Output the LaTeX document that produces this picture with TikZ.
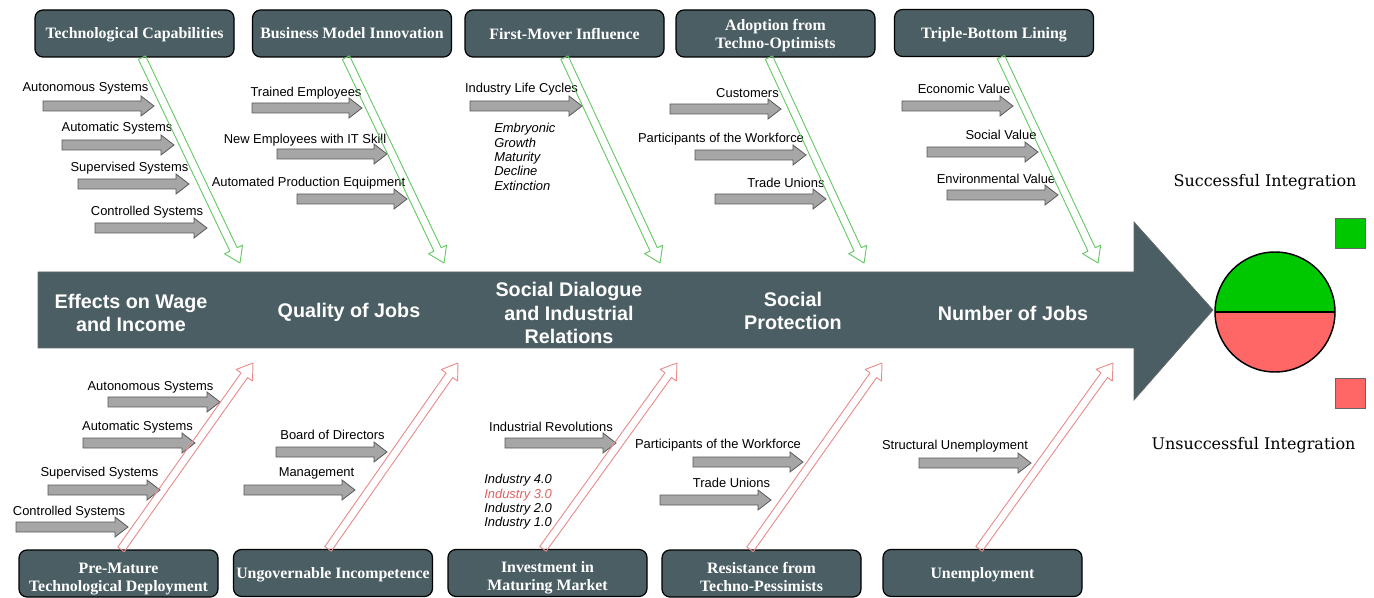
\documentclass[tikz,border=0pt]{standalone}
\usepackage{fontspec}
\setmainfont{Liberation Serif}
\setsansfont{Liberation Sans}
\newfontfamily\legendfont{DejaVu Serif}
\usepackage{tikz}
\usetikzlibrary{calc}
\definecolor{slate}{RGB}{74,94,99}
\definecolor{goodgreen}{RGB}{0,200,0}
\definecolor{badred}{RGB}{255,102,102}
\definecolor{pushgreen}{RGB}{104,200,104}
\definecolor{pullred}{RGB}{232,140,140}
\definecolor{subgray}{RGB}{166,166,166}
\definecolor{hlred}{RGB}{224,96,96}

\begin{document}
\begin{tikzpicture}[
  x=0.75pt, y=-0.75pt,
  % block arrow from start to target: half shaft, half head, head length
  fat arrow/.style n args={3}{to path={
      ($(\tikztostart)!#1!90:(\tikztotarget)$)
      -- ($(\tikztotarget)!#3!(\tikztostart)!#1!-90:(\tikztostart)$)
      -- ($(\tikztotarget)!#3!(\tikztostart)!#2!-90:(\tikztostart)$)
      -- (\tikztotarget)
      -- ($(\tikztotarget)!#3!(\tikztostart)!#2!90:(\tikztostart)$)
      -- ($(\tikztotarget)!#3!(\tikztostart)!#1!90:(\tikztostart)$)
      -- ($(\tikztostart)!#1!-90:(\tikztotarget)$)
      -- cycle}},
  cause/.style={
    rectangle, rounded corners=6pt, draw=black, fill=slate,
    line width=0.9pt, minimum width=149.25pt, minimum height=35.25pt,
    inner sep=1pt, text depth=0pt, text=white, align=center,
    font=\fontsize{11.9}{13.5}\selectfont\bfseries
  },
  low/.style={text height=26.5pt},
  push/.style={draw=pushgreen, line width=0.7pt, line join=round, fat arrow={3pt}{7.5pt}{11.25pt}},
  pull/.style={draw=pullred, line width=0.7pt, line join=round, fat arrow={3pt}{7.5pt}{11.25pt}},
  sub/.style={draw=black!65, fill=subgray, line width=0.6pt, fat arrow={3.75pt}{7.5pt}{9.75pt}},
  lbl/.style={font=\sffamily\fontsize{9.7}{11}\selectfont, text=black, inner sep=0pt},
  phase/.style={font=\sffamily\itshape\fontsize{9.7}{10.8}\selectfont, text=black, inner sep=0pt, align=left},
  effect/.style={font=\sffamily\bfseries\fontsize{14.8}{17.6}\selectfont, text=white, align=center},
  legendbox/.style={rectangle, draw=black!60, line width=0.6pt, minimum size=22.5pt, inner sep=0pt},
  legendtxt/.style={font=\legendfont\fontsize{12}{14}\selectfont, inner sep=0pt},
]
\useasboundingbox (0,0) rectangle (1374,598);

% spine
\filldraw[fill=slate, draw=black!60, line width=0.5pt]
  (38,272) -- (1134,272) -- (1134,222) -- (1213,310) -- (1134,400) -- (1134,348) -- (38,348) -- cycle;

\node[effect] (wage)  at (131,313)  {Effects on Wage\\and Income};
\node[effect] (qual)  at (349,312)  {Quality of Jobs};
\node[effect] (dial)  at (569,313)  {Social Dialogue\\and Industrial\\Relations};
\node[effect] (prot)  at (793,311)  {Social\\Protection};
\node[effect] (jobs)  at (1013,313) {Number of Jobs};

% outcome circle
\fill[goodgreen] (1215,312) arc[start angle=180, end angle=0, radius=45pt] -- cycle;
\fill[badred] (1215,312) arc[start angle=180, end angle=360, radius=45pt] -- cycle;
\draw[line width=1.1pt] (1275,312) circle[radius=45pt];
\draw[line width=0.9pt] (1215,312) -- (1335,312);

\node[legendbox, fill=goodgreen] (okbox)  at (1350.5,233) {};
\node[legendbox, fill=badred]    (badbox) at (1350.5,393) {};
\node[legendtxt] (oktxt)  at (1265,182)   {Successful Integration};
\node[legendtxt] (badtxt) at (1253.5,445) {Unsuccessful Integration};

% cause boxes, top
\node[cause] (tech) at (134.5,33.5) {Technological Capabilities};
\node[cause] (bmi)  at (352,33.5)   {Business Model Innovation};
\node[cause] (fmi)  at (564.5,33.5) {First-Mover Influence};
\node[cause] (opt)  at (775.5,33.5) {Adoption from\\Techno-Optimists};
\node[cause] (tbl)  at (994,33)     {Triple-Bottom Lining};

% cause boxes, bottom
\node[cause, low] (pmd)   at (118.5,573.5) {Pre-Mature\\Technological Deployment};
\node[cause]      (ungov) at (333,573)     {Ungovernable Incompetence};
\node[cause, low] (imm)   at (547.5,573)   {Investment in\\Maturing Market};
\node[cause, low] (pess)  at (761.5,573.5) {Resistance from\\Techno-Pessimists};
\node[cause]      (unemp) at (982.5,573)   {Unemployment};

% where the bones meet the spine
\coordinate (tp1) at (240,263);
\coordinate (tp2) at (444,263);
\coordinate (tp3) at (660,263);
\coordinate (tp4) at (864,263);
\coordinate (tp5) at (1098,263);
\coordinate (bt1) at (253,363);
\coordinate (bt2) at (458,363);
\coordinate (bt3) at (677,363);
\coordinate (bt4) at (882,363);
\coordinate (bt5) at (1113,363);

% sub causes: technological capabilities
\node[lbl] (tc1) at (85.5,88)  {Autonomous Systems};
\node[lbl] (tc2) at (117,128)  {Automatic Systems};
\node[lbl] (tc3) at (129.5,168) {Supervised Systems};
\node[lbl] (tc4) at (147,212)  {Controlled Systems};
\draw[sub] (43,106) to (154,106);
\draw[sub] (62,145) to (174,145);
\draw[sub] (78,184) to (189,184);
\draw[sub] (95,228) to (207,228);

% business model innovation
\node[lbl] (bm1) at (306,93)    {Trained Employees};
\node[lbl] (bm2) at (305,140)   {New Employees with IT Skill};
\node[lbl] (bm3) at (308.5,183) {Automated Production Equipment};
\draw[sub] (252,108) to (362,108);
\draw[sub] (277,154) to (387,154);
\draw[sub] (297,199) to (407,199);

% first-mover influence
\node[lbl] (fm1) at (521.5,89) {Industry Life Cycles};
\draw[sub] (470,106) to (582,106);
\node[phase, anchor=north west] (cycles) at (494,123)
  {Embryonic\\Growth\\Maturity\\Decline\\Extinction};

% techno-optimists
\node[lbl] (op1) at (747.5,93) {Customers};
\node[lbl] (op2) at (721,139)  {Participants of the Workforce};
\node[lbl] (op3) at (786,183)  {Trade Unions};
\draw[sub] (670,109) to (781,109);
\draw[sub] (695,155) to (806,155);
\draw[sub] (715,199) to (826,199);

% triple-bottom lining
\node[lbl] (tb1) at (964,89)   {Economic Value};
\node[lbl] (tb2) at (1001,135) {Social Value};
\node[lbl] (tb3) at (996,179)  {Environmental Value};
\draw[sub] (902,106) to (1013,106);
\draw[sub] (927,152) to (1038,152);
\draw[sub] (947,195) to (1058,195);

% pre-mature deployment
\node[lbl] (pm1) at (150.5,387) {Autonomous Systems};
\node[lbl] (pm2) at (137.5,427) {Automatic Systems};
\node[lbl] (pm3) at (99.5,473)  {Supervised Systems};
\node[lbl] (pm4) at (69,512)    {Controlled Systems};
\draw[sub] (108,402) to (220,402);
\draw[sub] (83,443) to (195,443);
\draw[sub] (48,490) to (160,490);
\draw[sub] (16,527) to (128,527);

% ungovernable incompetence
\node[lbl] (ug1) at (332.5,435) {Board of Directors};
\node[lbl] (ug2) at (316.5,473) {Management};
\draw[sub] (276,452) to (387,452);
\draw[sub] (244,490) to (355,490);

% maturing market
\node[lbl] (mm1) at (551,427) {Industrial Revolutions};
\draw[sub] (505,443) to (616,443);
\node[phase, anchor=north west] (revs) at (484,474)
  {Industry 4.0\\\textcolor{hlred}{Industry 3.0}\\Industry 2.0\\Industry 1.0};

% techno-pessimists
\node[lbl] (ps1) at (718,445)   {Participants of the Workforce};
\node[lbl] (ps2) at (731.5,483) {Trade Unions};
\draw[sub] (693,462) to (803,462);
\draw[sub] (660,500) to (771,500);

% unemployment
\node[lbl] (ue1) at (955,446) {Structural Unemployment};
\draw[sub] (919,463) to (1031,463);

% bones
\draw[push] ([xshift=5.6pt]tech.south) to (tp1);
\draw[push] ([xshift=-4.5pt]bmi.south) to (tp2);
\draw[push] (fmi.south) to (tp3);
\draw[push] ([xshift=-4.9pt]opt.south) to (tp4);
\draw[push] ([xshift=5.2pt]tbl.south) to (tp5);

\draw[pull] ([xshift=1.9pt]pmd.north) to (bt1);
\draw[pull] ([xshift=-3.7pt]ungov.north) to (bt2);
\draw[pull] ([xshift=-3.4pt]imm.north) to (bt3);
\draw[pull] ([xshift=-8.6pt]pess.north) to (bt4);
\draw[pull] ([xshift=-2.6pt]unemp.north) to (bt5);

\end{tikzpicture}
\end{document}
